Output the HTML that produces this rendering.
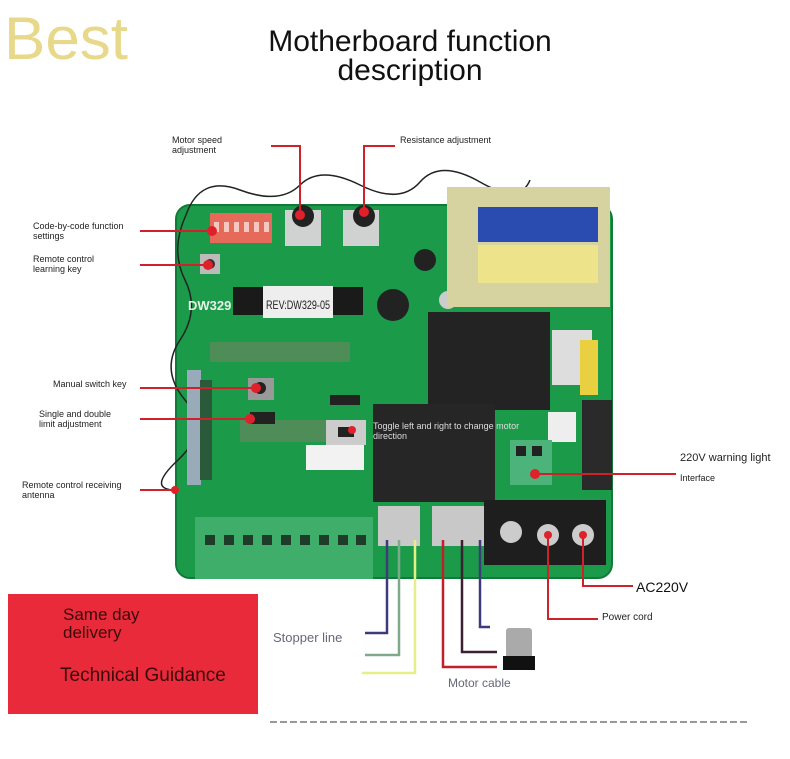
<!DOCTYPE html>
<html><head><meta charset="utf-8"><style>
html,body{margin:0;padding:0;background:#fff;}
svg{display:block;font-family:"Liberation Sans",sans-serif;}
</style></head><body>
<svg width="790" height="759" viewBox="0 0 790 759" xmlns="http://www.w3.org/2000/svg">
<rect width="790" height="759" fill="#fff"/>
<text x="4" y="59" font-size="60" fill="#e8d98a" textLength="124" lengthAdjust="spacingAndGlyphs">Best</text>
<text x="410" y="51" font-size="30" fill="#111" text-anchor="middle">Motherboard function</text>
<text x="410" y="80" font-size="30" fill="#111" text-anchor="middle">description</text>

<!-- board -->
<rect x="176" y="205" width="436" height="373" rx="14" fill="#1b9a4a"/>
<rect x="176" y="205" width="436" height="373" rx="14" fill="none" stroke="#127a38" stroke-width="2"/>
<path d="M186 215 Q200 175 240 190 T300 185 T360 185 T420 182 T480 182 T530 180" fill="none" stroke="#222" stroke-width="1.5"/>
<path d="M186 215 Q170 250 185 280 T180 340 T185 400 T178 460 T176 490" fill="none" stroke="#222" stroke-width="1.5"/>
<rect x="210" y="213" width="62" height="30" fill="#e66a5a"/>
<g fill="#f4c8c0"><rect x="214" y="222" width="5" height="10"/><rect x="224" y="222" width="5" height="10"/><rect x="234" y="222" width="5" height="10"/><rect x="244" y="222" width="5" height="10"/><rect x="254" y="222" width="5" height="10"/><rect x="264" y="222" width="5" height="10"/></g>
<rect x="285" y="210" width="36" height="36" fill="#cfd2d0"/><circle cx="303" cy="216" r="11" fill="#222"/>
<rect x="343" y="210" width="36" height="36" fill="#cfd2d0"/><circle cx="364" cy="216" r="11" fill="#222"/>
<rect x="200" y="254" width="20" height="20" fill="#bbb"/><circle cx="210" cy="264" r="5" fill="#333"/>
<rect x="233" y="287" width="130" height="28" fill="#1a1a1a"/>
<rect x="263" y="286" width="70" height="32" fill="#eee"/>
<text x="266" y="309" font-size="12" fill="#222" textLength="64" lengthAdjust="spacingAndGlyphs">REV:DW329-05</text>
<text x="188" y="310" font-size="13" font-weight="bold" fill="#e8f2e8">DW329</text>
<circle cx="425" cy="260" r="11" fill="#222"/><circle cx="393" cy="305" r="16" fill="#222"/>
<circle cx="448" cy="300" r="9" fill="#ccc"/>
<rect x="210" y="342" width="140" height="20" fill="#5b8a5a" opacity=".8"/>
<rect x="240" y="420" width="120" height="22" fill="#5b8a5a" opacity=".8"/>
<rect x="330" y="395" width="30" height="10" fill="#222"/>
<rect x="248" y="378" width="26" height="22" fill="#999"/><circle cx="260" cy="388" r="6" fill="#222"/>
<rect x="250" y="412" width="25" height="12" fill="#222"/>
<rect x="187" y="370" width="14" height="115" fill="#9ab"/>
<rect x="200" y="380" width="12" height="100" fill="#2a5a3a"/>
<rect x="326" y="420" width="40" height="25" fill="#ccc"/><rect x="338" y="427" width="16" height="10" fill="#222"/>
<rect x="306" y="445" width="58" height="25" fill="#f2f2f2"/>
<rect x="447" y="187" width="163" height="120" fill="#d6d3a0"/>
<rect x="478" y="207" width="120" height="35" fill="#2a4bb0"/>
<rect x="478" y="245" width="120" height="38" fill="#ece38a"/>
<rect x="428" y="312" width="122" height="98" fill="#232323"/>
<rect x="373" y="404" width="122" height="98" fill="#262626"/>
<rect x="552" y="330" width="40" height="55" fill="#ddd"/><rect x="580" y="340" width="18" height="55" fill="#e8d040"/>
<rect x="582" y="400" width="30" height="90" fill="#2a2a2a"/>
<rect x="548" y="412" width="28" height="30" fill="#eee"/>
<rect x="510" y="440" width="42" height="45" fill="#4cb47a"/>
<rect x="516" y="446" width="10" height="10" fill="#222"/><rect x="532" y="446" width="10" height="10" fill="#222"/>
<rect x="484" y="500" width="122" height="65" fill="#1e1e1e"/>
<circle cx="511" cy="532" r="11" fill="#ccc"/><circle cx="548" cy="535" r="11" fill="#ccc"/><circle cx="583" cy="535" r="11" fill="#ccc"/>
<rect x="378" y="506" width="42" height="40" fill="#c8c8c8"/>
<rect x="432" y="506" width="52" height="40" fill="#c8c8c8"/>
<rect x="195" y="517" width="178" height="62" fill="#3fae6a"/>
<g fill="#1f3b2a"><rect x="205" y="535" width="10" height="10"/><rect x="224" y="535" width="10" height="10"/><rect x="243" y="535" width="10" height="10"/><rect x="262" y="535" width="10" height="10"/><rect x="281" y="535" width="10" height="10"/><rect x="300" y="535" width="10" height="10"/><rect x="319" y="535" width="10" height="10"/><rect x="338" y="535" width="10" height="10"/><rect x="356" y="535" width="10" height="10"/></g>

<g stroke="#d0202a" stroke-width="2" fill="none">
<path d="M271 146 H300 V215"/><path d="M395 146 H364 V212"/>
<path d="M140 231 H210"/><path d="M140 265 H208"/><path d="M140 388 H256"/><path d="M140 419 H250"/><path d="M140 490 H175"/>
<path d="M535 474 H676"/><path d="M583 535 V586 H633"/><path d="M548 535 V619 H598"/>
</g>
<g fill="#e0202a"><circle cx="300" cy="215" r="5"/><circle cx="364" cy="212" r="5"/><circle cx="212" cy="231" r="5"/><circle cx="208" cy="265" r="5"/><circle cx="256" cy="388" r="5"/><circle cx="250" cy="419" r="5"/><circle cx="175" cy="490" r="4"/><circle cx="535" cy="474" r="5"/><circle cx="548" cy="535" r="4"/><circle cx="583" cy="535" r="4"/><circle cx="352" cy="430" r="4"/></g>
<g fill="none" stroke-width="2.5">
<path d="M387 540 V633 H365" stroke="#3f3a7a"/>
<path d="M399 540 V655 H365" stroke="#7faa8a"/>
<path d="M415 540 V673 H362" stroke="#e6ee8a"/>
<path d="M443 540 V667 H497" stroke="#c0202a"/>
<path d="M462 540 V652 H497" stroke="#3a2030"/>
<path d="M480 540 V627 H490" stroke="#3f3a7a"/>
</g>
<rect x="506" y="628" width="26" height="30" rx="3" fill="#aaa"/><rect x="503" y="656" width="32" height="14" fill="#111"/>

<g font-size="9" fill="#222">
<text x="172" y="143">Motor speed</text><text x="172" y="153">adjustment</text>
<text x="400" y="143">Resistance adjustment</text>
<text x="33" y="229">Code-by-code function</text><text x="33" y="239">settings</text>
<text x="33" y="262">Remote control</text><text x="33" y="272">learning key</text>
<text x="53" y="387">Manual switch key</text>
<text x="39" y="417">Single and double</text><text x="39" y="427">limit adjustment</text>
<text x="22" y="488">Remote control receiving</text><text x="22" y="498">antenna</text>
<text x="680" y="481">Interface</text>
<text x="602" y="620" font-size="10">Power cord</text>
</g>
<text x="373" y="429" font-size="9" fill="#ddd">Toggle left and right to change motor</text>
<text x="373" y="439" font-size="9" fill="#ddd">direction</text>
<text x="680" y="461" font-size="11" fill="#222">220V warning light</text>
<text x="636" y="592" font-size="14" fill="#111">AC220V</text>
<text x="273" y="642" font-size="13" fill="#666878">Stopper line</text>
<text x="448" y="687" font-size="12" fill="#666878">Motor cable</text>

<rect x="8" y="594" width="250" height="120" fill="#e82a3a"/>
<text x="63" y="620" font-size="17" fill="#3a0a0a">Same day</text>
<text x="63" y="638" font-size="17" fill="#3a0a0a">delivery</text>
<text x="60" y="681" font-size="19" fill="#3a0a0a">Technical Guidance</text>

<line x1="270" y1="722" x2="750" y2="722" stroke="#333" stroke-width="1" stroke-dasharray="7,3"/>
</svg>
</body></html>
